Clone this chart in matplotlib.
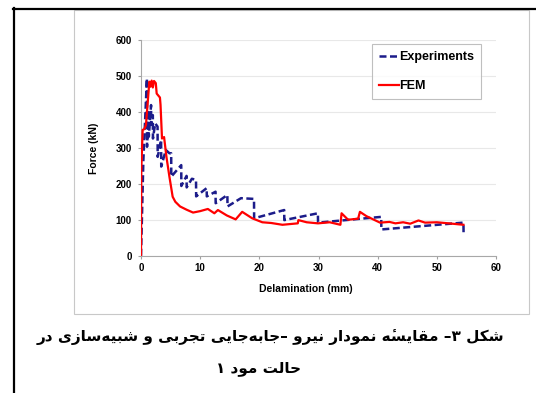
import matplotlib
matplotlib.use("Agg")
import matplotlib.pyplot as plt
from matplotlib.lines import Line2D
from matplotlib.patches import Rectangle

# ---------------- data ----------------
exp_x = [0, 0.4, 1.0, 1.02, 1.3, 1.32, 1.7, 1.72, 2.0, 2.02, 2.4, 2.8, 2.82, 3.4, 3.42,
         4.2, 4.8, 5.1, 5.12, 6.8, 6.82, 7.7, 7.72, 8.6, 9.3, 9.32, 11.1, 11.12, 12.6,
         12.62, 14.6, 14.62, 16.9, 19.1, 19.12, 24.2, 24.22, 29.9, 29.92, 40.6, 40.62,
         54.5, 54.52]
exp_y = [0, 266, 493, 303, 405, 331, 419, 364, 391, 326, 368, 359, 275, 322, 248,
         294, 285, 285, 220, 252, 194, 222, 190, 214, 211, 165, 188, 165, 178,
         146, 169, 137, 160, 158, 104, 127, 99, 118, 92, 108, 73,
         92, 60]

fem_x = [0, 0.05, 0.28, 0.56, 0.84, 1.3, 1.4, 1.6, 1.8, 2.0, 2.2, 2.5, 2.65, 3.2, 3.3,
         3.55, 3.9, 4.3, 4.8, 5.35, 5.8, 6.6, 7.7, 8.8, 10.0, 11.3, 12.4, 13.0, 14.5,
         16.0, 17.1, 18.8, 20.5, 22.0, 23.9, 26.5, 26.6, 28.0, 29.9, 31.9, 33.7, 33.9,
         35.0, 36.7, 37.0, 38.1, 40.4, 42.0, 43.0, 44.3, 45.5, 46.9, 48.0, 50.0, 52.0,
         54.5]
fem_y = [0, 240, 350, 352, 364, 461, 484, 470, 487, 468, 486, 480, 451, 440, 420,
         326, 330, 275, 220, 164, 150, 137, 128, 120, 124, 130, 118, 127, 112,
         101, 122, 104, 93, 91, 86, 90, 99, 93, 90, 93, 86, 118,
         100, 103, 122, 110, 92, 94, 90, 93, 89, 98, 92, 93, 90,
         86]

x_ticks = [0, 10, 20, 30, 40, 50, 60]
y_ticks = [0, 100, 200, 300, 400, 500, 600]
series_labels = ["Experiments", "FEM"]
x_label = "Delamination (mm)"
y_label = "Force (kN)"
caption_line1 = "شکل ۳– مقایسهٔ نمودار نیرو –جابه\u200cجایی تجربی و شبیه\u200cسازی در"
caption_line2 = "حالت مود ۱"

# ---------------- simple Arabic/Persian shaping ----------------
FORMS = {
    '\u0627': ('\uFE8D', '\uFE8E', None, None),
    '\u0628': ('\uFE8F', '\uFE90', '\uFE91', '\uFE92'),
    '\u062A': ('\uFE95', '\uFE96', '\uFE97', '\uFE98'),
    '\u062C': ('\uFE9D', '\uFE9E', '\uFE9F', '\uFEA0'),
    '\u062D': ('\uFEA1', '\uFEA2', '\uFEA3', '\uFEA4'),
    '\u062F': ('\uFEA9', '\uFEAA', None, None),
    '\u0631': ('\uFEAD', '\uFEAE', None, None),
    '\u0632': ('\uFEAF', '\uFEB0', None, None),
    '\u0633': ('\uFEB1', '\uFEB2', '\uFEB3', '\uFEB4'),
    '\u0634': ('\uFEB5', '\uFEB6', '\uFEB7', '\uFEB8'),
    '\u0642': ('\uFED5', '\uFED6', '\uFED7', '\uFED8'),
    '\u06A9': ('\uFB8E', '\uFB8F', '\uFB90', '\uFB91'),
    '\u0644': ('\uFEDD', '\uFEDE', '\uFEDF', '\uFEE0'),
    '\u0645': ('\uFEE1', '\uFEE2', '\uFEE3', '\uFEE4'),
    '\u0646': ('\uFEE5', '\uFEE6', '\uFEE7', '\uFEE8'),
    '\u0647': ('\uFEE9', '\uFEEA', '\uFEEB', '\uFEEC'),
    '\u0648': ('\uFEED', '\uFEEE', None, None),
    '\u06CC': ('\uFBFC', '\uFBFD', '\uFBFE', '\uFBFF'),
}
MARKS = {'\u0654'}


def shape_rtl(s):
    # split into base letters with attached combining marks
    clusters = []
    for c in s:
        if c in MARKS and clusters:
            clusters[-1][1].append(c)
        else:
            clusters.append([c, []])
    n = len(clusters)
    out = []
    for i, (c, marks) in enumerate(clusters):
        if c == '\u200c':
            continue
        if c in FORMS:
            f = FORMS[c]
            prev = clusters[i - 1][0] if i > 0 else None
            nxt = clusters[i + 1][0] if i < n - 1 else None
            jp = prev in FORMS and FORMS[prev][2] is not None
            jn = nxt in FORMS and f[2] is not None
            if jp and jn:
                g = f[3]
            elif jp:
                g = f[1]
            elif jn:
                g = f[2]
            else:
                g = f[0]
        else:
            g = c
        out.append(g + ''.join(marks))
    return ''.join(reversed(out))


# ---------------- figure ----------------
W, H = 536, 393
fig = plt.figure(figsize=(W / 100, H / 100), dpi=100)
fig.patch.set_facecolor('white')


def fx(px):
    return px / W


def fy(py):
    return 1 - py / H


# outer black border (left and top)
fig.add_artist(Line2D([fx(14), fx(14)], [fy(8), 0], color='black', lw=1.6,
                      transform=fig.transFigure))
fig.add_artist(Line2D([fx(13.2), 1], [fy(9), fy(9)], color='black', lw=1.6,
                      transform=fig.transFigure))
# chart picture frame
fig.add_artist(Rectangle((fx(74), fy(314)), fx(529) - fx(74), fy(10) - fy(314),
                         transform=fig.transFigure, fill=False,
                         edgecolor='#c8c8c8', lw=0.8))

ax_l, ax_r, ax_t, ax_b = 141, 496, 40, 255.7
ax = fig.add_axes([fx(ax_l), fy(ax_b), fx(ax_r) - fx(ax_l), fy(ax_t) - fy(ax_b)])

ax.plot(exp_x, exp_y, color='#1c1c8a', lw=1.8, linestyle=(0, (2.8, 1.4)),
        label=series_labels[0], zorder=3)
ax.plot(fem_x, fem_y, color='#ff0000', lw=1.6, label=series_labels[1], zorder=4)

ax.set_xlim(0, 60)
ax.set_ylim(0, 600)
ax.set_xticks(x_ticks)
ax.set_yticks(y_ticks)
tick_font = dict(family='Liberation Sans', weight='bold', size=7)
ax.set_xticklabels([str(t) for t in x_ticks], fontdict=tick_font)
ax.set_yticklabels([str(t) for t in y_ticks], fontdict=tick_font)
ax.tick_params(axis='both', direction='out', length=2.5, width=0.8, color='#a0a0a0',
               labelcolor='black')
ax.tick_params(axis='x', pad=3)
ax.tick_params(axis='y', pad=4)
for s in ['top', 'right']:
    ax.spines[s].set_visible(False)
for s in ['left', 'bottom']:
    ax.spines[s].set_color('#a8a8a8')
    ax.spines[s].set_linewidth(0.8)
ax.grid(axis='y', color='#e8e8e8', lw=0.8)
ax.set_axisbelow(True)

ax.set_xlabel(x_label, family='Liberation Sans', weight='bold', size=7.5, labelpad=7)
ax.xaxis.set_label_coords(0.465, -0.13)
ax.set_ylabel(y_label, family='Liberation Sans', weight='bold', size=7.5, labelpad=12)

leg = ax.legend(loc='upper left', bbox_to_anchor=(0.651, 0.981), borderaxespad=0,
                prop=dict(family='Liberation Sans', weight='bold', size=9),
                frameon=True, fancybox=False, edgecolor='#b0b0b0',
                labelspacing=1.4, handlelength=1.6, handletextpad=0.05,
                borderpad=0.55)
leg.get_frame().set_linewidth(0.8)

cap_font = dict(family=['DejaVu Sans'], weight='bold', size=11)
fig.text(fx(270), fy(337), shape_rtl(caption_line1), ha='center', va='center', **cap_font)
fig.text(fx(258), fy(369), shape_rtl(caption_line2), ha='center', va='center', **cap_font)

fig.savefig('out.png', dpi=100, facecolor='white')
